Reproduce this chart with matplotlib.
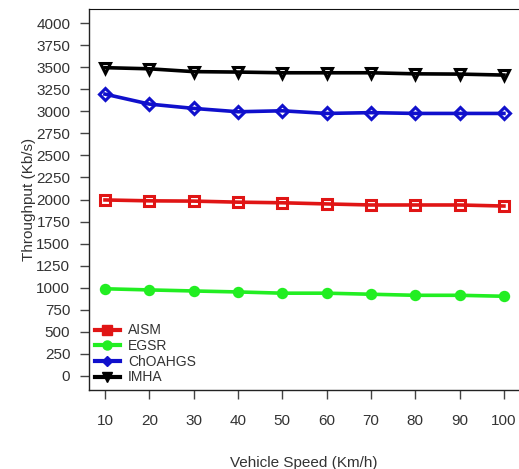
import matplotlib
matplotlib.use("Agg")
import matplotlib.pyplot as plt
from matplotlib.lines import Line2D

plt.rcParams['font.family'] = ['Liberation Sans', 'DejaVu Sans']

speed = [10, 20, 30, 40, 50, 60, 70, 80, 90, 100]
aism = [1995, 1985, 1982, 1970, 1963, 1950, 1938, 1938, 1938, 1926]
egsr = [988, 975, 963, 952, 938, 938, 926, 914, 914, 903]
choahgs = [3195, 3082, 3033, 2995, 3006, 2976, 2985, 2976, 2976, 2976]
imha = [3495, 3482, 3450, 3445, 3437, 3437, 3437, 3425, 3422, 3411]
yticks = list(range(0, 4001, 250))

# name, values, colour, marker, marker size, open marker?
series = [
    ("AISM", aism, "#e01515", "s", 7.5, True),
    ("EGSR", egsr, "#22ee22", "o", 6.0, False),
    ("ChOAHGS", choahgs, "#1010cc", "D", 6.5, True),
    ("IMHA", imha, "#000000", "v", 7.5, True),
]

fig = plt.figure(figsize=(5.19, 4.69), dpi=100)
ax = fig.add_axes([0.1715, 0.1684, 0.8285, 0.8124])

handles = []
for name, vals, color, mk, ms, hollow in series:
    ax.plot(speed, vals, color=color, lw=2.6, marker=mk, ms=ms,
            mfc=("none" if hollow else color), mec=color, mew=2.2)
    handles.append(Line2D([], [], color=color, lw=3.0, marker=mk,
                          ms=(6.5 if mk != "D" else 5.5), mfc=color, mec=color))

ax.set_xlim(6.4, 103.4)
ax.set_ylim(-160, 4160)
ax.set_xticks(speed)
ax.set_yticks(yticks)

ax.spines['right'].set_visible(False)
for s in ('left', 'bottom'):
    ax.spines[s].set_color('#222222')
    ax.spines[s].set_linewidth(1.0)
ax.spines['top'].set_color('#111111')

ax.tick_params(axis='both', direction='out', length=6.5, width=1.0,
               color='#444444', labelcolor='#333333', labelsize=11)
ax.tick_params(axis='x', pad=11)
ax.tick_params(axis='y', pad=7)

ax.set_xlabel("Vehicle Speed (Km/h)", fontsize=11, color='#333333', labelpad=20)
ax.set_ylabel("Throughput (Kb/s)", fontsize=11, color='#333333', labelpad=0)

ax.legend(handles=handles, labels=[s[0] for s in series], loc='lower left',
          frameon=False, fontsize=10, handlelength=1.8, handletextpad=0.6,
          labelspacing=0.12, borderaxespad=0.0, bbox_to_anchor=(0.0, 0.0),
          labelcolor='#333333')

fig.savefig("out.png", dpi=100)
